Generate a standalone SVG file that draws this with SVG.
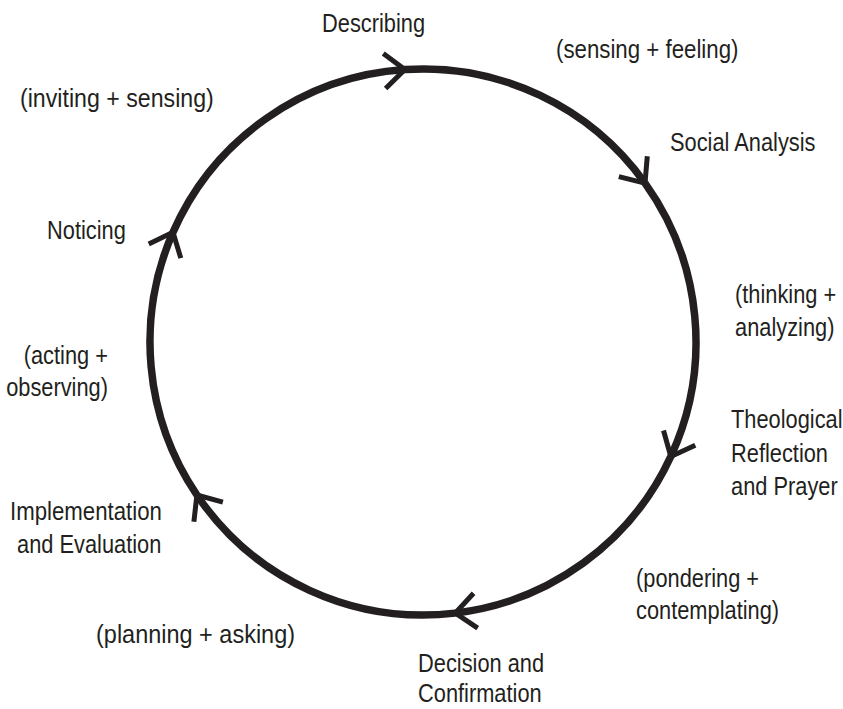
<svg xmlns="http://www.w3.org/2000/svg" width="843" height="709" viewBox="0 0 843 709">
<style>
text{font-family:"Liberation Sans",Arial,sans-serif;font-size:25px;fill:#231f20}
.arc{fill:none;stroke:#231f20;stroke-width:7.5}
.end{text-anchor:end}
</style>
<defs>
<marker id="chev" markerUnits="userSpaceOnUse" orient="auto" refX="0" refY="0" markerWidth="60" markerHeight="60" overflow="visible">
<path d="M-20.5,-17.5 L0,0 L-20.5,17.5" fill="none" stroke="#231f20" stroke-width="5"/>
</marker>
</defs>
<rect width="843" height="709" fill="#ffffff"/>
<g id="connectors">
<path class="arc" marker-end="url(#chev)" d="M173,232.3 A273,273 0 0 1 404.9,69.6"/>
<path class="arc" marker-end="url(#chev)" d="M404.9,69.6 A273,273 0 0 1 645,183.1"/>
<path class="arc" marker-end="url(#chev)" d="M645,183.1 A273,273 0 0 1 670.8,456.5"/>
<path class="arc" marker-end="url(#chev)" d="M670.8,456.5 A273,273 0 0 1 455.3,613.1"/>
<path class="arc" marker-end="url(#chev)" d="M455.3,613.1 A273,273 0 0 1 196.9,495"/>
<path class="arc" marker-end="url(#chev)" d="M196.9,495 A273,273 0 0 1 173,232.3"/>
</g>
<g id="describing"><text transform="matrix(0.873 0 0 1 322 32)">Describing</text></g>
<g id="sensing-feeling"><text transform="matrix(0.873 0 0 1 556 58)" textLength="209" lengthAdjust="spacingAndGlyphs">(sensing + feeling)</text></g>
<g id="inviting-sensing"><text transform="matrix(0.873 0 0 1 20 107)" textLength="222" lengthAdjust="spacingAndGlyphs">(inviting + sensing)</text></g>
<g id="social-analysis"><text transform="matrix(0.873 0 0 1 670 151)">Social Analysis</text></g>
<g id="noticing"><text transform="matrix(0.873 0 0 1 47 239)">Noticing</text></g>
<g id="thinking-analyzing">
<text transform="matrix(0.873 0 0 1 735 303)">(thinking +</text>
<text transform="matrix(0.873 0 0 1 735 336)">analyzing)</text>
</g>
<g id="acting-observing">
<text class="end" transform="matrix(0.873 0 0 1 108 364)">(acting +</text>
<text class="end" transform="matrix(0.873 0 0 1 108 396)">observing)</text>
</g>
<g id="theological-reflection">
<text transform="matrix(0.873 0 0 1 731 428)">Theological</text>
<text transform="matrix(0.873 0 0 1 731 462)">Reflection</text>
<text transform="matrix(0.873 0 0 1 731 495)">and Prayer</text>
</g>
<g id="implementation-evaluation">
<text transform="matrix(0.873 0 0 1 10 520)" textLength="174" lengthAdjust="spacingAndGlyphs">Implementation</text>
<text transform="matrix(0.873 0 0 1 17 553)">and Evaluation</text>
</g>
<g id="pondering-contemplating">
<text transform="matrix(0.873 0 0 1 636 587)">(pondering +</text>
<text transform="matrix(0.873 0 0 1 636 619)">contemplating)</text>
</g>
<g id="planning-asking"><text transform="matrix(0.873 0 0 1 96 643)" textLength="228" lengthAdjust="spacingAndGlyphs">(planning + asking)</text></g>
<g id="decision-confirmation">
<text transform="matrix(0.873 0 0 1 418 672)">Decision and</text>
<text transform="matrix(0.873 0 0 1 418 702)">Confirmation</text>
</g>
</svg>
